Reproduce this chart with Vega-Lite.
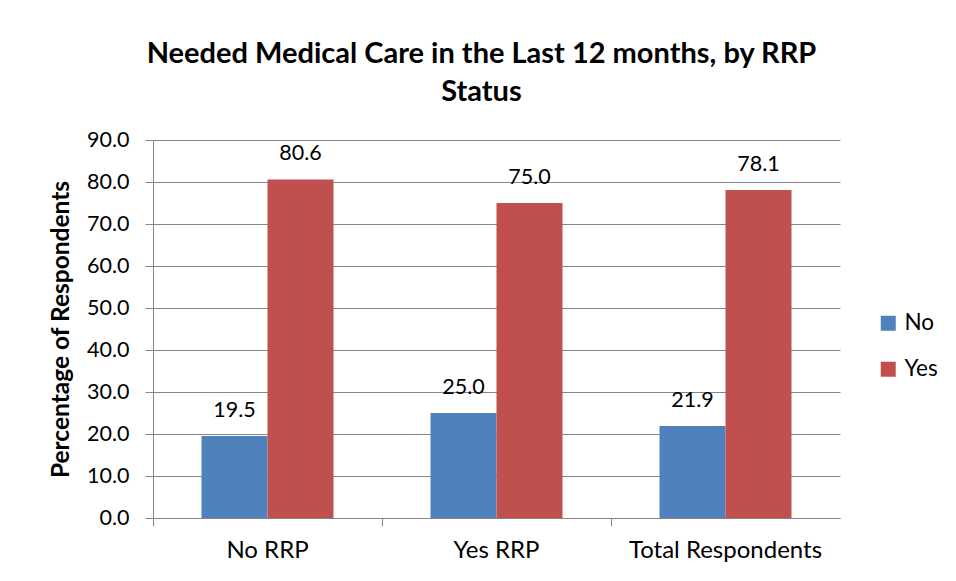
{
  "$schema": "https://vega.github.io/schema/vega-lite/v6.json",
  "width": 687,
  "height": 378,
  "autosize": {"type": "none"},
  "padding": {"left": 153, "top": 140, "right": 116, "bottom": 63},
  "background": "white",
  "title": {
    "text": ["Needed Medical Care in the Last 12 months, by RRP", "Status"],
    "font": "Lato",
    "fontSize": 29,
    "fontWeight": "bold",
    "color": "black",
    "lineHeight": 38,
    "anchor": "middle",
    "dx": -15,
    "offset": 22
  },
  "data": {
    "values": [
      {"group": "No RRP", "answer": "No", "pct": 19.5},
      {"group": "No RRP", "answer": "Yes", "pct": 80.6},
      {"group": "Yes RRP", "answer": "No", "pct": 25.0},
      {"group": "Yes RRP", "answer": "Yes", "pct": 75.0},
      {"group": "Total Respondents", "answer": "No", "pct": 21.9},
      {"group": "Total Respondents", "answer": "Yes", "pct": 78.1}
    ]
  },
  "encoding": {
    "x": {
      "field": "group",
      "type": "nominal",
      "sort": ["No RRP", "Yes RRP", "Total Respondents"],
      "scale": {"paddingInner": 0, "paddingOuter": 0},
      "axis": {
        "title": null,
        "labelAngle": 0,
        "labelLimit": 0,
        "labelFont": "Lato",
        "labelFontSize": 24,
        "labelColor": "black",
        "labelPadding": 12,
        "bandPosition": 0,
        "tickSize": 8,
        "tickColor": "#868686",
        "domainColor": "#868686",
        "grid": false
      }
    },
    "xOffset": {
      "field": "answer",
      "type": "nominal",
      "scale": {"paddingInner": 0, "paddingOuter": 0.735}
    },
    "y": {
      "field": "pct",
      "type": "quantitative",
      "scale": {"domain": [0, 90], "nice": false},
      "axis": {
        "title": "Percentage of Respondents",
        "titleFont": "Lato",
        "titleFontSize": 24.5,
        "titleFontWeight": "bold",
        "titleColor": "black",
        "titlePadding": 13,
        "values": [0, 10, 20, 30, 40, 50, 60, 70, 80, 90],
        "format": ".1f",
        "labelFont": "Lato",
        "labelFontSize": 21.5,
        "labelColor": "black",
        "labelPadding": 16,
        "tickSize": 8,
        "tickColor": "#868686",
        "domainColor": "#868686",
        "gridColor": "#868686",
        "gridWidth": 1
      }
    }
  },
  "layer": [
    {
      "mark": {"type": "bar"},
      "encoding": {
        "color": {
          "field": "answer",
          "type": "nominal",
          "scale": {"domain": ["No", "Yes"], "range": ["#4F81BD", "#C0504D"]},
          "legend": {
            "title": null,
            "orient": "none",
            "legendX": 724,
            "legendY": 172,
            "symbolType": "square",
            "symbolSize": 225,
            "symbolStrokeWidth": 0,
            "labelFont": "Lato",
            "labelFontSize": 22.5,
            "labelColor": "black",
            "rowPadding": 23,
            "labelOffset": 5
          }
        }
      }
    },
    {
      "mark": {"type": "text", "font": "Lato", "fontSize": 21.5, "color": "black", "dy": -14, "baseline": "bottom"},
      "encoding": {
        "text": {"field": "pct", "type": "quantitative", "format": ".1f"}
      }
    }
  ],
  "config": {
    "view": {"stroke": null}
  }
}
